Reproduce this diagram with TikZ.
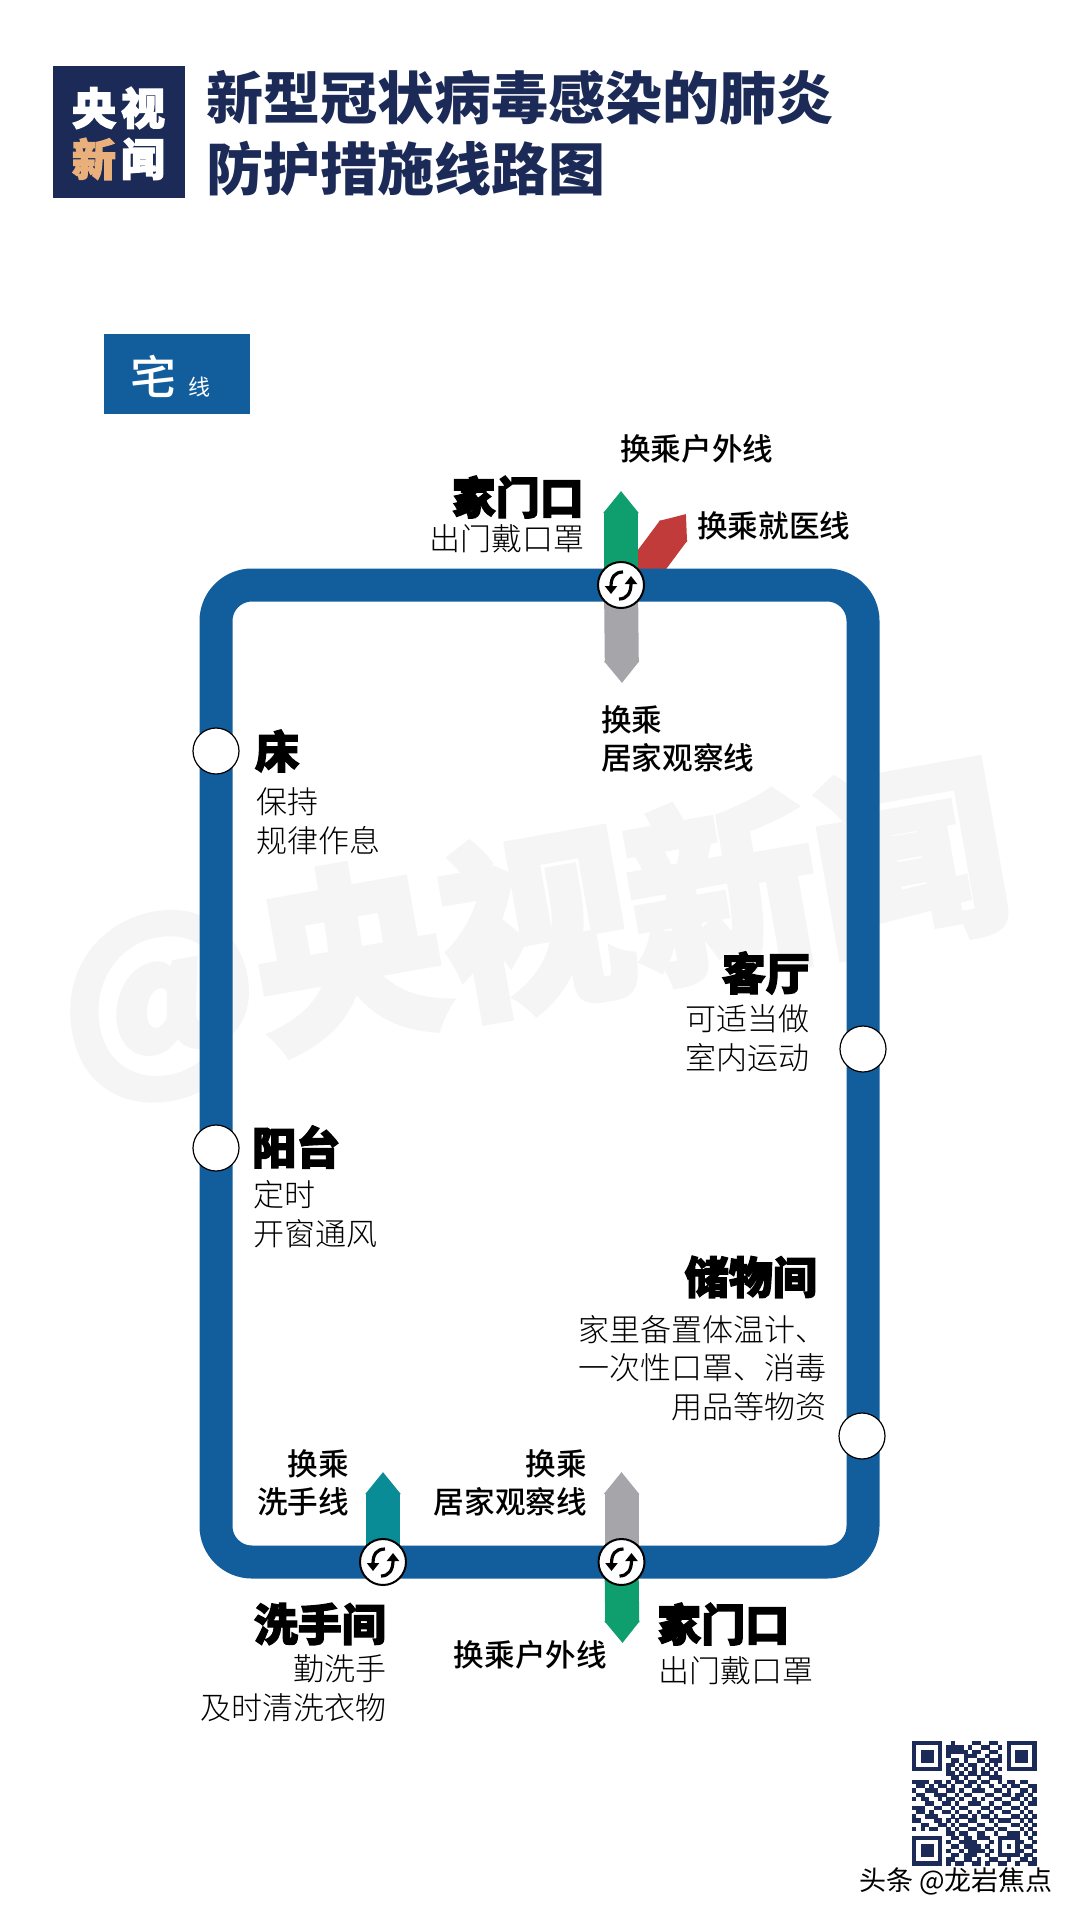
\documentclass[tikz,border=0pt]{standalone}
\usepackage{fontspec}
\usepackage{xcolor}
\usepackage{tikz}
\usetikzlibrary{arrows.meta, calc, backgrounds}
\newfontfamily\zhfont{Noto Sans CJK SC}
\newfontfamily\zhheavy{Noto Sans CJK SC}[BoldFeatures={FakeBold=3}]
\newfontfamily\zhthin{Noto Sans CJK SC Light}
\newfontfamily\zhmid{Noto Sans CJK SC Medium}
\definecolor{cctvnavy}{HTML}{1B2A56}
\definecolor{homeblue}{HTML}{125E9D}
\definecolor{outgreen}{HTML}{0F9F6E}
\definecolor{medred}{HTML}{C23B3B}
\definecolor{watchgray}{HTML}{A6A6AA}
\definecolor{washteal}{HTML}{0A8C96}
\definecolor{logoorange}{HTML}{E9B07C}
\definecolor{markgray}{HTML}{F5F5F6}
\newcommand*{\swapicon}[1]{%
  \draw [swapline] ($(#1)+(2,-13)$) .. controls ($(#1)+(-6,-13)$) and ($(#1)+(-10,-8)$) .. ($(#1)+(-10,9)$);
  \draw [swapline] ($(#1)+(-2,14)$) .. controls ($(#1)+(6,14)$) and ($(#1)+(10,8)$) .. ($(#1)+(10,-9)$);
}
\newcommand*{\zhsize}[1]{\fontsize{#1}{#1}\selectfont}

\begin{document}
\begin{tikzpicture}[x=1pt,y=-1pt,
    station/.style    = {circle, draw=black, fill=white, line width=1.2pt,
      minimum size=46pt, inner sep=0pt},
    hub/.style        = {station, line width=2pt},
    swapline/.style   = {line width=3.2pt, black,
      -{Triangle[length=8pt,width=12pt]}},
    stub/.style       = {line width=34pt,
      -{Triangle[length=22pt,width=34pt]}},
    trackline/.style  = {line width=33pt, homeblue, rounded corners=36pt},
    stopname/.style   = {font=\zhheavy\bfseries\zhsize{44}, black, inner sep=0pt},
    stopnote/.style   = {font=\zhthin\fontsize{31}{38.5}\selectfont, black, inner sep=0pt},
    transfer/.style   = {font=\zhmid\fontsize{30.6}{38}\selectfont, black, inner sep=0pt},
    logotext/.style   = {font=\zhheavy\bfseries\zhsize{44}, white, inner sep=0pt},
    titletext/.style  = {font=\zhfont\bfseries\zhsize{57}, cctvnavy, inner sep=0pt},
  ]
  \useasboundingbox (0,0) rectangle (1080,1920);

  \node [fill=cctvnavy, minimum width=132pt, minimum height=132pt, inner sep=0pt] (logo) at (119,132) {};
  \node [logotext] (logoA) at (94,108) {央};
  \node [logotext] (logoB) at (143,108) {视};
  \node [logotext, text=logoorange] (logoC) at (94,159) {新};
  \node [logotext] (logoD) at (143,159) {闻};
  \node [titletext, anchor=west] (titleA) at (206,98) {新型冠状病毒感染的肺炎};
  \node [titletext, anchor=west] (titleB) at (206,169) {防护措施线路图};

  \node [fill=homeblue, minimum width=146pt, minimum height=80pt, inner sep=0pt] (linetag) at (177,374) {};
  \node [font=\zhmid\zhsize{46}, white, inner sep=0pt] (linetagA) at (153,376) {宅};
  \node [font=\zhfont\zhsize{22}, white, inner sep=0pt] (linetagB) at (199,387) {线};

  \coordinate (trackNW) at (216,585);
  \coordinate (trackNE) at (863,585);
  \coordinate (trackSE) at (863,1562);
  \coordinate (trackSW) at (216,1562);

  \node [station] (bed) at (216,751) {};
  \node [station] (balcony) at (216,1148) {};
  \node [station] (living) at (863,1049) {};
  \node [station] (storage) at (862,1436) {};
  \node [hub] (doorTop) at (621,585) {};
  \node [hub] (washroom) at (383,1562) {};
  \node [hub] (doorBottom) at (621.5,1562) {};
  \swapicon{doorTop}
  \swapicon{washroom}
  \swapicon{doorBottom}

  \coordinate (doorTopOut) at (621,491);
  \coordinate (doorTopDown) at (622,683);
  \coordinate (doorTopMedFoot) at (633,585);
  \coordinate (doorTopMed) at (686,514);
  \coordinate (washOut) at (383,1472);
  \coordinate (doorBottomUp) at (621.5,1472);
  \coordinate (doorBottomOut) at (622.5,1643);

  \begin{pgfonlayer}{background}
    \fill [white] (0,0) rectangle (1080,1920);
    \node [font=\zhheavy\bfseries\zhsize{190}, markgray, rotate=10, inner sep=0pt] (mark) at (533,932) {@央视新闻};
    \draw [stub, medred] (doorTopMedFoot) -- (doorTopMed);
    \draw [stub, outgreen] (doorTop.center) -- (doorTopOut);
    \draw [stub, watchgray] (doorTop.center) -- (doorTopDown);
    \draw [stub, washteal] (washroom.center) -- (washOut);
    \draw [stub, watchgray] (doorBottom.center) -- (doorBottomUp);
    \draw [stub, outgreen] (doorBottom.center) -- (doorBottomOut);
    \draw [trackline] (trackNW) -- (trackNE) -- (trackSE) -- (trackSW) -- cycle;
  \end{pgfonlayer}

  \node [transfer, anchor=west] (toOutA) at (620,449) {换乘户外线};
  \node [stopname, anchor=east] (doorTopName) at (584,497) {家门口};
  \node [stopnote, anchor=east] (doorTopNote) at (585,539) {出门戴口罩};
  \node [transfer, anchor=west] (toMed) at (697,526) {换乘就医线};
  \node [transfer, anchor=west, align=left] (toWatchA) at (601,739) {换乘\\居家观察线};

  \node [stopname, anchor=west] (bedName) at (255,751) {床};
  \node [stopnote, anchor=west, align=left] (bedNote) at (256,821) {保持\\规律作息};
  \node [stopname, anchor=west] (balconyName) at (252,1147) {阳台};
  \node [stopnote, anchor=west, align=left] (balconyNote) at (253,1214) {定时\\开窗通风};
  \node [stopname, anchor=east] (livingName) at (810,973) {客厅};
  \node [stopnote, anchor=east, align=left] (livingNote) at (810,1038) {可适当做\\室内运动};
  \node [stopname, anchor=east] (storageName) at (817,1277) {储物间};
  \node [stopnote, anchor=east, align=right] (storageNote) at (827,1368) {家里备置体温计、\\一次性口罩、消毒\\用品等物资};

  \node [transfer, anchor=east, align=right] (toWash) at (349,1483) {换乘\\洗手线};
  \node [transfer, anchor=east, align=right] (toWatchB) at (587,1483) {换乘\\居家观察线};
  \node [stopname, anchor=east] (washName) at (386,1624) {洗手间};
  \node [stopnote, anchor=east, align=right] (washNote) at (387,1688) {勤洗手\\及时清洗衣物};
  \node [transfer, anchor=east] (toOutB) at (607,1655) {换乘户外线};
  \node [stopname, anchor=west] (doorBottomName) at (657,1624) {家门口};
  \node [stopnote, anchor=west] (doorBottomNote) at (658,1671) {出门戴口罩};

  \foreach \cx/\cy in {0/0, 22/0, 0/22} {
    \fill [cctvnavy] ({912+\cx*4.3},{1741+\cy*4.3}) rectangle +(30.1,30.1);
    \fill [white] ({912+(\cx+1)*4.3},{1741+(\cy+1)*4.3}) rectangle +(21.5,21.5);
    \fill [cctvnavy] ({912+(\cx+2)*4.3},{1741+(\cy+2)*4.3}) rectangle +(12.9,12.9);
  }
  \foreach \r/\cols in {0/{9,14,15,18,19}, 1/{8,9,10,11,13,16,17,20}, 2/{8,9,10,11,12,14,15,18,19},
      3/{8,12,13,14,17,20}, 4/{9,10,12,15,16,18,19,20}, 5/{8,9,11,13,14,17,19},
      6/{8,10,12,14,16,18,20}, 7/{8,9,11,13,14,16,17,19}, 8/{9,10,12,15,18,19,20},
      9/{0,1,2,3,5,6,8,10,11,13,14,16,17,20,22,23,25,26}, 10/{1,2,4,6,7,9,12,13,15,18,21,23,24,27,28},
      11/{0,3,4,5,8,9,11,14,15,16,19,20,22,25,26,28}, 12/{1,2,5,6,7,10,12,13,17,18,21,22,24,25,27},
      13/{0,2,3,6,8,9,11,14,16,19,20,23,24,26,28}, 14/{3,4,7,8,10,13,14,15,18,21,22,25,27,28},
      15/{0,1,2,5,6,9,11,12,16,17,19,20,23,24,26}, 16/{1,2,4,7,8,10,13,15,18,21,22,25,27},
      17/{0,3,4,5,9,11,12,14,16,17,19,23,24,26,28}, 18/{0,1,5,6,8,10,13,14,18,20,21,22,25,27},
      19/{2,3,6,7,9,11,12,15,16,19,23,24,26,28}, 20/{0,2,4,5,8,10,13,14,17,18,20,21,25,27},
      21/{8,9,11,12,15,16,19,22,23,24,26,28}, 22/{9,10,12,13,15,16,17,20,21,22,23,24,27},
      23/{8,11,12,13,14,18,20,24,25,28}, 24/{9,10,12,13,14,15,17,20,22,24,26,27},
      25/{8,11,13,14,15,16,18,20,24,25,28}, 26/{9,10,12,13,14,17,20,21,22,23,24,26,27},
      27/{8,9,12,13,15,18,19,22,25,26,28}, 28/{8,10,11,14,15,17,20,21,24,27,28}} {
    \foreach \c in \cols {
      \fill [cctvnavy] ({912+\c*4.3},{1741+\r*4.3}) rectangle +(4.4,4.4);
    }
  }
  \node [font=\zhfont\zhsize{27}, black, inner sep=0pt] (credit) at (956,1881) {头条 @龙岩焦点};
\end{tikzpicture}
\end{document}
